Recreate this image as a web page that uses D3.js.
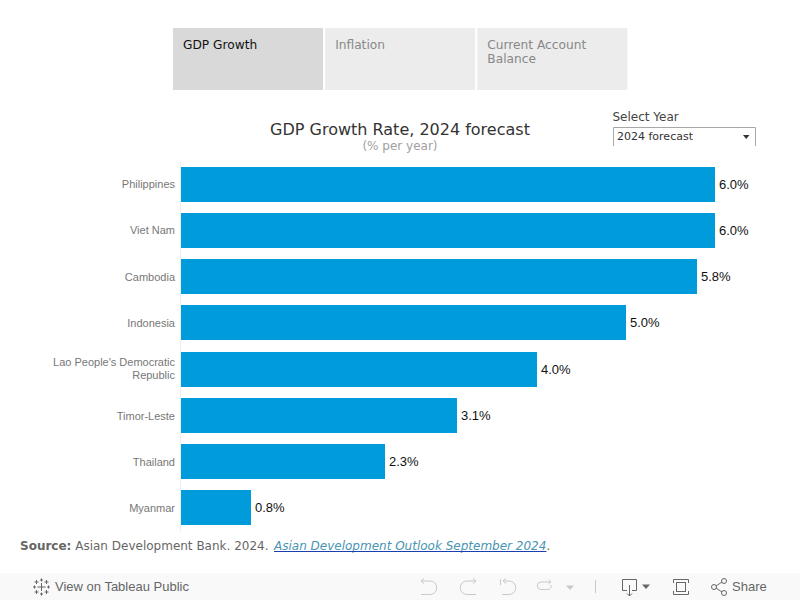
<!DOCTYPE html>
<html>
<head>
<meta charset="utf-8">
<script src="https://cdn.jsdelivr.net/npm/d3@7/dist/d3.min.js"></script>
<style>html,body{margin:0;padding:0;background:#fff;overflow:hidden}svg{display:block}</style>
</head>
<body>
<svg id="c" width="800" height="600"></svg>
<script>
const countries = ["Philippines","Viet Nam","Cambodia","Indonesia","Lao People's Democratic Republic","Timor-Leste","Thailand","Myanmar"];
const growth = [6.0,6.0,5.8,5.0,4.0,3.1,2.29,0.79];
const tabs = ["GDP Growth","Inflation","Current Account|Balance"];
const DJ = "'DejaVu Sans',sans-serif", LI = "'Liberation Sans',Arial,sans-serif";

const svg = d3.select("#c");
const x = d3.scaleLinear().domain([0,6]).range([181,715]);
const y = d3.scaleBand().domain(countries).range([161.4,530.5]).paddingInner(0.2414).paddingOuter(0.1207);
const yr = d => Math.round(y(d));
const yLabel = d3.scalePoint().domain(countries).range([188,512.1]);

// tabs
const tabX = d3.scaleBand().domain(tabs).range([173,627.5]).paddingInner(0.0132).paddingOuter(0);
const tg = svg.selectAll("g.tab").data(tabs).join("g").attr("class","tab");
tg.append("rect").attr("x",d=>tabX(d)).attr("y",28).attr("width",150).attr("height",62)
  .attr("fill",(d,i)=>i===0?"#d9d9d9":"#ececec");
tg.each(function(d,i){
  d.split("|").forEach((t,j)=>{
    d3.select(this).append("text").attr("x",tabX(d)+10).attr("y",49+j*14)
      .attr("font-family",DJ).attr("font-size",12.2).attr("fill",i===0?"#111":"#888").text(t);
  });
});

// titles
svg.append("text").attr("x",400).attr("y",135).attr("text-anchor","middle").attr("font-family",DJ)
  .attr("font-size",16).attr("fill","#333").text("GDP Growth Rate, 2024 forecast");
svg.append("text").attr("x",400).attr("y",150).attr("text-anchor","middle").attr("font-family",DJ)
  .attr("font-size",12).attr("fill","#a0a0a0").text("(% per year)");

// selector
svg.append("text").attr("x",612.5).attr("y",121).attr("font-family",DJ).attr("font-size",12).attr("fill","#444").text("Select Year");
svg.append("path").attr("d","M613.5,146V127.5H755.5V146").attr("fill","none").attr("stroke","#a8a8a8");
svg.append("text").attr("x",617).attr("y",140).attr("font-family",DJ).attr("font-size",11).attr("fill","#333").text("2024 forecast");
svg.append("path").attr("d","M743,135H749.5L746.2,139Z").attr("fill","#333");

// axis line
svg.append("line").attr("x1",180.5).attr("x2",180.5).attr("y1",161).attr("y2",531).attr("stroke","#eeeeee");

// bars
svg.selectAll("rect.bar").data(countries).join("rect").attr("class","bar")
  .attr("x",x(0)).attr("y",yr).attr("width",(d,i)=>Math.round(x(growth[i]))-x(0)).attr("height",35).attr("fill","#009bdb");

// value labels
svg.selectAll("text.val").data(countries).join("text").attr("class","val")
  .attr("x",(d,i)=>Math.round(x(growth[i]))+4).attr("y",d=>yr(d)+22)
  .attr("font-family",LI).attr("font-size",13).attr("fill","#111").text((d,i)=>growth[i].toFixed(1)+"%");

// category labels
const wrap = {"Lao People's Democratic Republic":["Lao People's Democratic","Republic"]};
svg.selectAll("g.cat").data(countries).join("g").attr("class","cat").each(function(d){
  const lines = wrap[d]||[d];
  lines.forEach((t,j)=>{
    d3.select(this).append("text").attr("x",175)
      .attr("y",Math.round(yLabel(d))+(lines.length>1?(j===0?-7:6):0))
      .attr("text-anchor","end").attr("font-family",LI).attr("font-size",11).attr("fill","#777").text(t);
  });
});

// source
const s = svg.append("text").attr("x",20).attr("y",550).attr("font-family",DJ).attr("font-size",12).attr("fill","#666");
s.append("tspan").attr("font-weight","bold").text("Source:");
s.append("tspan").text(" Asian Development Bank. 2024.");
const linkX = 274;
const link = svg.append("text").attr("x",linkX).attr("y",550).attr("font-family",DJ).attr("font-size",12)
  .attr("font-style","italic").attr("fill","#4a94b4").text("Asian Development Outlook September 2024");
const linkW = link.node().getComputedTextLength();
svg.append("line").attr("x1",linkX).attr("x2",linkX+linkW).attr("y1",551.5).attr("y2",551.5).attr("stroke","#1a3fb0");
svg.append("text").attr("x",linkX+linkW).attr("y",550).attr("font-family",DJ).attr("font-size",12).attr("fill","#666").text(".");

// toolbar
svg.append("rect").attr("x",0).attr("y",573).attr("width",800).attr("height",27).attr("fill","#f9f9f9");
const logo = svg.append("g").attr("transform","translate(41.5,587)").attr("stroke","#666").attr("fill","none").attr("stroke-width",1);
[[0,0,4],[-5,-5,2],[5,-5,2],[-5,5,2],[5,5,2],[0,-7,1.5],[0,7,1.5],[-7,0,1.5],[7,0,1.5]].forEach(([a,b,r])=>{
  logo.append("path").attr("d",`M${a-r},${b}H${a+r}M${a},${b-r}V${b+r}`);
});
svg.append("text").attr("x",55).attr("y",591).attr("font-family",LI).attr("font-size",13).attr("fill","#666").text("View on Tableau Public");

const icons = svg.append("g").attr("fill","none").attr("stroke-width",1);
const off = "#c9c9c9", on = "#666";
icons.append("path").attr("stroke",off).attr("d","M421,581H430A6,6 0 0 1 430,594.5H421M421,581L424,578.5M421,581L424,583.5");
icons.append("path").attr("stroke",off).attr("d","M476,581H467A6,6 0 0 0 467,594.5H476M476,581L473,578.5M476,581L473,583.5");
icons.append("path").attr("stroke",off).attr("d","M500.5,579V585M503,581H509A6,6 0 0 1 509,594.5H502M503,581L506,578.5M503,581L506,583.5");
icons.append("path").attr("stroke",off).attr("d","M551,582H541A3.5,3.5 0 0 0 541,589.5H548A3.5,3.5 0 0 0 551,585M551,582L548.5,579.5M551,582L548.5,584");
svg.append("path").attr("fill",off).attr("d","M566,585.5H574L570,590Z");
icons.append("line").attr("stroke",off).attr("x1",595.5).attr("x2",595.5).attr("y1",580).attr("y2",593);
icons.append("path").attr("stroke",on).attr("d","M627,590.5H622.5V579.5H636.5V590.5H632M629.5,585V596M627,593.5L629.5,596L632,593.5");
svg.append("path").attr("fill",on).attr("d","M642,584.5H650L646,589Z");
icons.append("path").attr("stroke",on).attr("d","M673.5,583V579.5H688.5V583M673.5,591V594.5H688.5V591");
icons.append("rect").attr("stroke",on).attr("x",676.5).attr("y",582.5).attr("width",9).attr("height",9);
icons.append("path").attr("stroke",on).attr("d","M716,586L722,582M716,588L722,592");
[[714,587,2.5],[724,581,2.5],[724,593,2.5]].forEach(([a,b,r])=>icons.append("circle").attr("stroke",on).attr("cx",a).attr("cy",b).attr("r",r));
svg.append("text").attr("x",732).attr("y",591).attr("font-family",LI).attr("font-size",13).attr("fill","#666").text("Share");
</script>
</body>
</html>
